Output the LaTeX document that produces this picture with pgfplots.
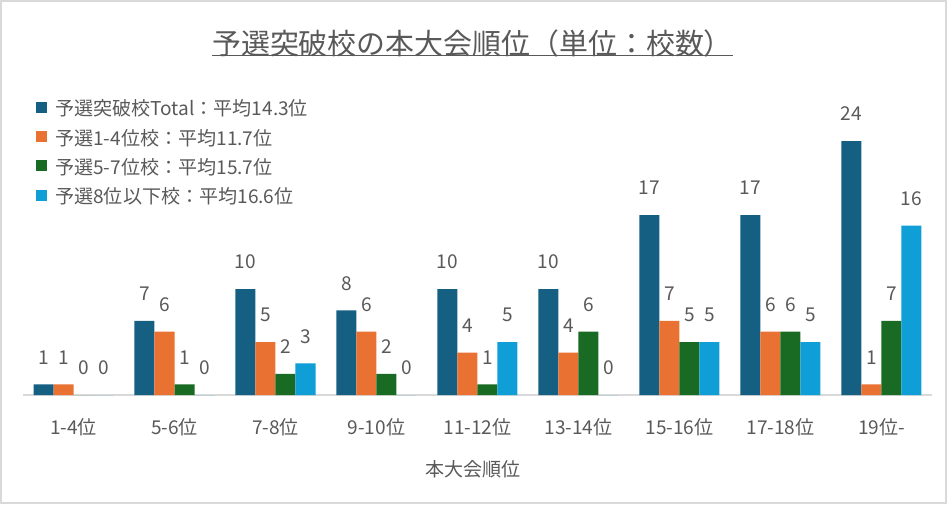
\documentclass[border=0pt]{standalone}
\usepackage{pgfplots}
\pgfplotsset{compat=1.18}
\usepackage{fontspec}
\setmainfont{Noto Sans CJK JP}
\definecolor{c1}{HTML}{156082}
\definecolor{c2}{HTML}{E97132}
\definecolor{c3}{HTML}{196B24}
\definecolor{c4}{HTML}{0F9ED5}
\definecolor{txt}{HTML}{595959}
\definecolor{framec}{HTML}{D9D9D9}
\newcommand\fs{\fontsize{14.3pt}{17pt}\selectfont}
\pgfplotsset{mylegend/.style={legend image code/.code={\fill[##1,draw=none] (0pt,-1.5pt) rectangle (8.25pt,6.75pt);}}}
\begin{document}
\begin{tikzpicture}
\path[use as bounding box] (0,0) rectangle (710.25pt,378pt);
\draw[framec, line width=1.5pt] (0.75pt,0.75pt) rectangle (709.5pt,377.25pt);
\node[font=\fontsize{21.7pt}{26pt}\selectfont, text=txt] at (354.4pt,345.4pt) {予選突破校の本大会順位（単位：校数）};
\draw[txt, line width=0.75pt] (159pt,336pt) -- (549.75pt,336pt);
\begin{axis}[
  at={(17.25pt,81.75pt)}, anchor=south west,
  scale only axis, width=681.75pt, height=222.2pt,
  ymin=0, ymax=28, xmin=-0.5, xmax=8.5,
  axis y line=none, axis x line=bottom,
  x axis line style={-, draw=framec, line width=1.5pt},
  xtick={0,...,8},
  xticklabels={1-4位,5-6位,7-8位,9-10位,11-12位,13-14位,15-16位,17-18位,19位-},
  major tick length=0pt,
  xticklabel style={font=\fs, text=txt, anchor=center, yshift=-24pt},
  ybar=0pt, bar width=15pt,
  nodes near coords,
  every node near coord/.append style={font=\fs, text=txt, anchor=center, yshift=20.25pt},
  /pgf/number format/assume math mode=true,
  xlabel={本大会順位},
  xlabel style={at={(axis description cs:0.5,0)}, anchor=center, yshift=-55.5pt, xshift=-3.4pt, font=\fs, text=txt},
  legend style={at={(axis description cs:0.0143,0.9925)}, anchor=north west, draw=none, fill=none, font=\fs, text=txt, inner sep=0pt, row sep=8pt, column sep=6pt, nodes={inner sep=0pt, text height=11pt, text depth=3pt}},
  legend cell align=left,
]
\addplot[fill=c1, draw=none, mylegend] coordinates {(0,1) (1,7) (2,10) (3,8) (4,10) (5,10) (6,17) (7,17) (8,24)};
\addplot[fill=c2, draw=none, mylegend] coordinates {(0,1) (1,6) (2,5) (3,6) (4,4) (5,4) (6,7) (7,6) (8,1)};
\addplot[fill=c3, draw=none, mylegend] coordinates {(0,0) (1,1) (2,2) (3,2) (4,1) (5,6) (6,5) (7,6) (8,7)};
\addplot[fill=c4, draw=none, mylegend] coordinates {(0,0) (1,0) (2,3) (3,0) (4,5) (5,0) (6,5) (7,5) (8,16)};
\legend{予選突破校Total：平均14.3位, 予選1-4位校：平均11.7位, 予選5-7位校：平均15.7位, 予選8位以下校：平均16.6位}
\end{axis}
\end{tikzpicture}
\end{document}
